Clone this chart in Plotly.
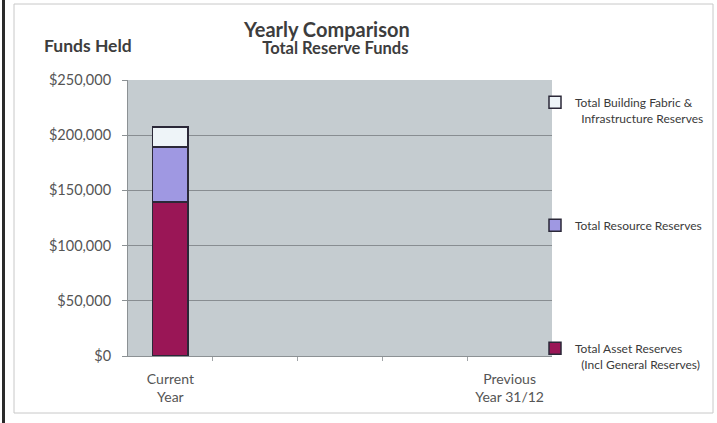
import plotly.graph_objects as go

# Category slots along the x axis (only the first and last carry labels)
categories = ["Current Year", "", "", "", "Previous Year 31/12"]
category_labels = ["Current<br>Year", "Previous<br>Year 31/12"]

# Reserve fund components (stacked), one value per category slot
asset_reserves = [139500, None, None, None, None]
resource_reserves = [50000, None, None, None, None]
building_reserves = [18000, None, None, None, None]

series_names = [
    "Total Asset Reserves<br>  (Incl General Reserves)",
    "Total Resource Reserves",
    "Total Building Fabric &<br>  Infrastructure Reserves",
]
series_values = [asset_reserves, resource_reserves, building_reserves]
series_colors = ["#9a1656", "#9f98e2", "#eef4f8"]

y_ticks = [0, 50000, 100000, 150000, 200000, 250000]

FONT = "Lato, 'Open Sans', sans-serif"
x_pos = list(range(len(categories)))

fig = go.Figure()
legends = ["legend3", "legend2", "legend"]
for name, vals, col, lg in zip(series_names, series_values, series_colors, legends):
    fig.add_trace(go.Bar(
        x=x_pos, y=vals, name=name, width=0.42,
        marker=dict(color=col, line=dict(color="#2b2838", width=1.5)),
        legend=lg, showlegend=True,
    ))

W, H = 717, 423
L, R, T, B = 128, 165, 80, 67
pw, ph = W - L - R, H - T - B

def px_x(x):
    return (x - L) / pw

def px_y(y):
    return (H - B - y) / ph

def cx(x):
    return x / W

def cy(y):
    return 1 - y / H

legend_common = dict(bgcolor="rgba(0,0,0,0)", font=dict(family=FONT, size=12, color="#3a3a3a"),
                     xref="container", yref="container",
                     xanchor="left", yanchor="top", valign="top", itemclick=False)

fig.update_layout(
    width=W, height=H,
    margin=dict(l=L, r=R, t=T, b=B, autoexpand=False),
    paper_bgcolor="white",
    plot_bgcolor="#c5ccd0",
    barmode="stack",
    showlegend=True,
    font=dict(family=FONT, color="#555555"),
    xaxis=dict(
        range=[-0.5, len(categories) - 0.5],
        tickvals=[0, len(categories) - 1], ticktext=category_labels,
        tickfont=dict(size=14, color="#555555"),
        ticklabelstandoff=10,
        showgrid=False, zeroline=False, ticks="",
        showline=True, linecolor="#8c9194", linewidth=1,
        minor=dict(tickvals=[0.5, 1.5, 2.5, 3.5], ticks="outside", ticklen=4,
                   tickcolor="#a0a4a7", showgrid=False),
        fixedrange=True,
    ),
    yaxis=dict(
        range=[0, 250000], tickvals=y_ticks,
        ticktext=[f"${v:,.0f}" for v in y_ticks],
        tickfont=dict(size=14.5, color="#555555"),
        ticklabelstandoff=8,
        showgrid=True, gridcolor="#888d91", gridwidth=1,
        zeroline=False, ticks="outside", ticklen=5, tickcolor="#8c9194",
        showline=True, linecolor="#8c9194", linewidth=1,
        fixedrange=True,
    ),
    legend=dict(x=cx(535), y=cy(88), **legend_common),
    legend2=dict(x=cx(535), y=cy(211), **legend_common),
    legend3=dict(x=cx(535), y=cy(334), **legend_common),
    annotations=[
        dict(text=("<span style='font-size:20px'><b>Yearly Comparison</b></span><br>"
                   "<span style='font-size:16.5px'>&nbsp;&nbsp;&nbsp;&nbsp;<b>Total Reserve Funds</b></span>"),
             xref="paper", yref="paper", align="center",
             x=px_x(326), y=px_y(37.5), xanchor="center", yanchor="middle",
             showarrow=False, font=dict(family=FONT, size=13.2, color="#3d3d3d")),
        dict(text="<b>Funds Held</b>", xref="paper", yref="paper",
             x=px_x(42), y=px_y(46), xanchor="left", yanchor="middle",
             showarrow=False, font=dict(family=FONT, size=17.5, color="#3d3d3d")),
    ],
    shapes=[
        # outer frame of the chart area
        dict(type="rect", xref="paper", yref="paper",
             x0=px_x(14), x1=px_x(713), y0=px_y(413), y1=px_y(4),
             line=dict(color="#c8c8c8", width=1), layer="below"),
        # dark edge along the left side
        dict(type="line", xref="paper", yref="paper",
             x0=px_x(3.5), x1=px_x(3.5), y0=px_y(423), y1=px_y(0),
             line=dict(color="#2a2a2a", width=3)),
    ],
)

fig.write_html("out.html")
